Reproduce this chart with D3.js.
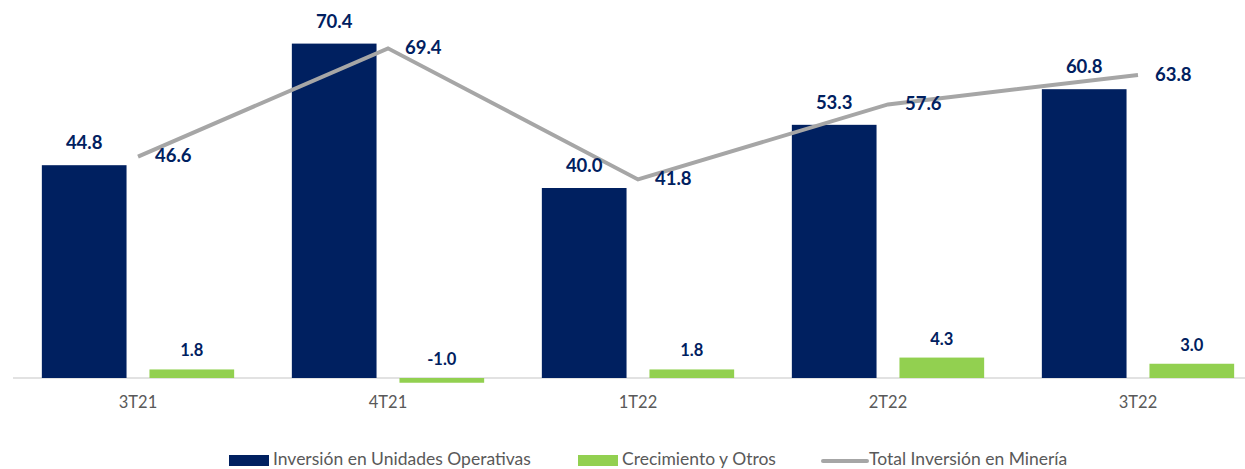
<!DOCTYPE html>
<html>
<head>
<meta charset="utf-8">
<script src="https://cdn.jsdelivr.net/npm/d3@7"></script>
<style>
  body { margin: 0; background: #fff; }
  text { font-family: Lato, "Open Sans", sans-serif; }
</style>
</head>
<body>
<div id="chart"></div>
<script>
var categories = ["3T21", "4T21", "1T22", "2T22", "3T22"]
var operativas = [44.8, 70.4, 40.0, 53.3, 60.8]
var crecimiento = [1.8, -1.0, 1.8, 4.3, 3.0]
var total = [46.6, 69.4, 41.8, 57.6, 63.8]
var seriesNames = ["Inversión en Unidades Operativas", "Crecimiento y Otros", "Total Inversión en Minería"]

var W = 1245, H = 469
var navy = "#002060", green = "#92D050", grey = "#A6A6A6", textGrey = "#595959"

var svg = d3.select("#chart").append("svg")
    .attr("width", W)
    .attr("height", H)

var x = d3.scaleBand()
    .domain(categories)
    .range([13, 1263])
    .padding(0)

var xSub = d3.scaleBand()
    .domain(["op", "cr"])
    .range([0, x.bandwidth()])
    .paddingInner(0.213)
    .paddingOuter(0.268)

var y = d3.scaleLinear()
    .domain([0, 70])
    .range([378, 378 - 70 * 4.75])

// baseline
svg.append("line")
    .attr("x1", 13).attr("x2", W)
    .attr("y1", y(0)).attr("y2", y(0))
    .attr("stroke", "#d9d9d9")
    .attr("stroke-width", 1.5)

// navy bars
svg.append("g").selectAll("rect")
    .data(operativas)
    .join("rect")
        .attr("x", (d, i) => x(categories[i]) + xSub("op"))
        .attr("width", xSub.bandwidth())
        .attr("y", d => y(d))
        .attr("height", d => y(0) - y(d))
        .attr("fill", navy)

// green bars
svg.append("g").selectAll("rect")
    .data(crecimiento)
    .join("rect")
        .attr("x", (d, i) => x(categories[i]) + xSub("cr"))
        .attr("width", xSub.bandwidth())
        .attr("y", d => y(Math.max(0, d)))
        .attr("height", d => Math.abs(y(0) - y(d)))
        .attr("fill", green)

// total line
var line = d3.line()
    .x((d, i) => x(categories[i]) + x.bandwidth() / 2)
    .y(d => y(d))

svg.append("path")
    .datum(total)
    .attr("d", line)
    .attr("fill", "none")
    .attr("stroke", grey)
    .attr("stroke-width", 4)

// labels on navy bars
svg.append("g").selectAll("text")
    .data(operativas)
    .join("text")
        .attr("x", (d, i) => x(categories[i]) + xSub("op") + xSub.bandwidth() / 2)
        .attr("y", d => y(d) - 16)
        .attr("text-anchor", "middle")
        .attr("font-size", 18.5)
        .attr("font-weight", "bold")
        .attr("fill", navy)
        .text(d => d.toFixed(1))

// labels on green bars
svg.append("g").selectAll("text")
    .data(crecimiento)
    .join("text")
        .attr("x", (d, i) => x(categories[i]) + xSub("cr") + xSub.bandwidth() / 2)
        .attr("y", d => y(Math.max(0, d)) - 13)
        .attr("text-anchor", "middle")
        .attr("font-size", 16.5)
        .attr("font-weight", "bold")
        .attr("fill", navy)
        .text(d => d.toFixed(1))

// labels on line points
svg.append("g").selectAll("text")
    .data(total)
    .join("text")
        .attr("x", (d, i) => x(categories[i]) + x.bandwidth() / 2 + 17)
        .attr("y", d => y(d) + 1)
        .attr("dominant-baseline", "middle")
        .attr("font-size", 18.5)
        .attr("font-weight", "bold")
        .attr("fill", navy)
        .text(d => d.toFixed(1))

// category axis
var xAxis = svg.append("g")
    .attr("transform", "translate(0," + y(0) + ")")
    .call(d3.axisBottom(x).tickSize(0).tickPadding(18))

xAxis.select(".domain").remove()
xAxis.selectAll("text")
    .attr("font-size", 16.5)
    .attr("fill", textGrey)
    .style("font-family", "Lato, 'Open Sans', sans-serif")

// legend
var legend = svg.append("g")
    .attr("transform", "translate(0,461)")

var legendItems = [
    { name: seriesNames[0], x: 229, type: "rect", color: navy },
    { name: seriesNames[1], x: 578, type: "rect", color: green },
    { name: seriesNames[2], x: 823, type: "line", color: grey }
]

legendItems.forEach(function(d) {
    if (d.type == "rect") {
        legend.append("rect")
            .attr("x", d.x)
            .attr("y", -6)
            .attr("width", 40)
            .attr("height", 11)
            .attr("fill", d.color)
    } else {
        legend.append("line")
            .attr("x1", d.x).attr("x2", d.x + 44)
            .attr("y1", 0).attr("y2", 0)
            .attr("stroke", d.color)
            .attr("stroke-width", 4)
            .attr("stroke-linecap", "round")
    }
    legend.append("text")
        .attr("x", d.x + (d.type == "rect" ? 44 : 46))
        .attr("y", 0)
        .attr("dominant-baseline", "middle")
        .attr("font-size", 17.5)
        .attr("fill", textGrey)
        .text(d.name)
})
</script>
</body>
</html>
